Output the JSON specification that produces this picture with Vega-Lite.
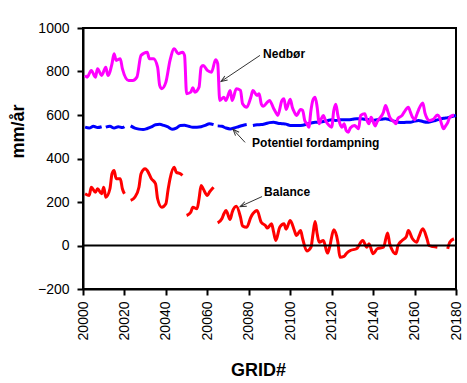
{
  "$schema": "https://vega.github.io/schema/vega-lite/v6.json",
  "width": 373,
  "height": 261,
  "autosize": "none",
  "padding": {"left": 83, "top": 28, "right": 11, "bottom": 94},
  "background": "white",
  "config": {
    "font": "Liberation Sans",
    "view": {"stroke": "black", "strokeWidth": 2},
    "axis": {"domainColor": "black", "domainWidth": 2, "tickColor": "black", "tickWidth": 2, "tickSize": 6, "labelColor": "black", "labelFontSize": 14, "labelFont": "Liberation Sans", "titleFont": "Liberation Sans", "titleColor": "black", "titleFontSize": 18, "titleFontWeight": "bold", "grid": false}
  },
  "datasets": {
    "ned": [
      {"g":20001,"v":782},{"g":20002,"v":774},{"g":20004,"v":805},{"g":20006,"v":774},{"g":20007,"v":813},{"g":20009,"v":782},{"g":20011,"v":820},{"g":20012,"v":782},{"g":20014,"v":836},{"g":20015,"v":882},{"g":20016,"v":851},{"g":20018,"v":859},{"g":20019,"v":813},{"g":20022,"v":759},{"g":20024,"v":759},{"g":20026,"v":774},{"g":20028,"v":874},{"g":20031,"v":889},{"g":20032,"v":859},{"g":20034,"v":859},{"g":20036,"v":820},{"g":20037,"v":736},{"g":20038,"v":721},{"g":20040,"v":751},{"g":20042,"v":851},{"g":20044,"v":905},{"g":20046,"v":882},{"g":20048,"v":889},{"g":20049,"v":874},{"g":20050,"v":698},{"g":20052,"v":705},{"g":20053,"v":725},{"g":20054,"v":705},{"g":20056,"v":728},{"g":20057,"v":820},{"g":20058,"v":828},{"g":20060,"v":805},{"g":20062,"v":797},{"g":20064,"v":854},{"g":20065,"v":836},{"g":20066,"v":667},{"g":20068,"v":682},{"g":20069,"v":667},{"g":20071,"v":713},{"g":20072,"v":667},{"g":20074,"v":721},{"g":20076,"v":713},{"g":20077,"v":652},{"g":20079,"v":636},{"g":20081,"v":682},{"g":20082,"v":713},{"g":20084,"v":690},
      {"g":20085,"v":698},{"g":20086,"v":652},{"g":20087,"v":640},{"g":20089,"v":659},{"g":20090,"v":667},{"g":20092,"v":630},{"g":20093,"v":613},{"g":20094,"v":598},{"g":20096,"v":667},{"g":20097,"v":675},{"g":20098,"v":625},{"g":20100,"v":672},{"g":20101,"v":636},{"g":20102,"v":613},{"g":20103,"v":598},{"g":20105,"v":625},{"g":20106,"v":621},{"g":20107,"v":575},{"g":20108,"v":560},{"g":20109,"v":544},{"g":20110,"v":621},{"g":20111,"v":670},{"g":20112,"v":682},{"g":20113,"v":636},{"g":20114,"v":560},{"g":20115,"v":583},{"g":20116,"v":598},{"g":20117,"v":575},{"g":20118,"v":560},{"g":20120,"v":544},{"g":20121,"v":620},{"g":20122,"v":650},{"g":20123,"v":598},{"g":20124,"v":560},{"g":20125,"v":544},{"g":20126,"v":560},{"g":20127,"v":529},{"g":20128,"v":521},{"g":20129,"v":540},{"g":20131,"v":552},{"g":20132,"v":545},{"g":20133,"v":537},{"g":20134,"v":598},{"g":20136,"v":606},{"g":20137,"v":575},{"g":20138,"v":560},{"g":20139,"v":590},{"g":20141,"v":550},{"g":20142,"v":570},{"g":20143,"v":583},{"g":20145,"v":613},{"g":20146,"v":644},{"g":20147,"v":620},{"g":20148,"v":590},{"g":20150,"v":570},{"g":20151,"v":560},{"g":20152,"v":585},{"g":20154,"v":598},{"g":20155,"v":613},{"g":20157,"v":636},{"g":20158,"v":613},{"g":20159,"v":590},{"g":20160,"v":578},{"g":20161,"v":600},{"g":20162,"v":625},{"g":20164,"v":655},{"g":20165,"v":610},{"g":20166,"v":585},{"g":20167,"v":575},{"g":20169,"v":580},{"g":20171,"v":600},{"g":20172,"v":590},{"g":20173,"v":560},{"g":20174,"v":537},{"g":20175,"v":550},{"g":20176,"v":565},{"g":20177,"v":590},{"g":20179,"v":600}
    ],
    "pot": [
      {"g":20001,"v":544},{"g":20003,"v":540},{"g":20005,"v":548},{"g":20007,"v":542},{"g":20009,"v":546},{"g":20010,"v":null},{"g":20011,"v":544},{"g":20013,"v":548},{"g":20015,"v":540},{"g":20017,"v":546},{"g":20019,"v":542},{"g":20020,"v":546},{"g":20021,"v":null},{"g":20023,"v":550},{"g":20025,"v":540},{"g":20027,"v":535},{"g":20029,"v":533},{"g":20031,"v":538},{"g":20033,"v":545},{"g":20035,"v":555},{"g":20037,"v":557},{"g":20039,"v":552},{"g":20041,"v":545},{"g":20043,"v":535},{"g":20045,"v":540},{"g":20047,"v":552},{"g":20049,"v":553},{"g":20051,"v":548},{"g":20053,"v":544},{"g":20055,"v":544},{"g":20057,"v":546},{"g":20059,"v":552},{"g":20061,"v":560},{"g":20063,"v":556},{"g":20064,"v":null},{"g":20065,"v":550},{"g":20067,"v":548},{"g":20069,"v":540},{"g":20071,"v":536},{"g":20073,"v":540},{"g":20075,"v":546},{"g":20077,"v":552},{"g":20079,"v":556},{"g":20081,"v":null},{"g":20082,"v":552},{"g":20084,"v":555},{"g":20086,"v":556},{"g":20088,"v":560},{"g":20090,"v":565},{"g":20092,"v":567},{"g":20094,"v":562},{"g":20096,"v":560},{"g":20098,"v":558},{"g":20100,"v":552},{"g":20102,"v":552},{"g":20104,"v":552},{"g":20106,"v":553},{"g":20108,"v":558},{"g":20110,"v":563},{"g":20112,"v":567},{"g":20114,"v":567},{"g":20116,"v":570},{"g":20118,"v":574},{"g":20120,"v":578},{"g":20122,"v":575},{"g":20124,"v":578},{"g":20126,"v":578},{"g":20128,"v":578},{"g":20130,"v":580},{"g":20132,"v":583},{"g":20134,"v":583},{"g":20136,"v":580},{"g":20138,"v":578},{"g":20140,"v":575},{"g":20142,"v":578},{"g":20144,"v":580},{"g":20146,"v":583},{"g":20148,"v":578},{"g":20150,"v":572},{"g":20152,"v":567},{"g":20154,"v":565},{"g":20156,"v":567},{"g":20158,"v":567},{"g":20160,"v":572},{"g":20162,"v":575},{"g":20164,"v":570},{"g":20166,"v":567},{"g":20168,"v":570},{"g":20170,"v":575},{"g":20172,"v":580},{"g":20174,"v":585},{"g":20176,"v":588},{"g":20178,"v":593},{"g":20180,"v":598}
    ],
    "bal": [
      {"g":20001,"v":238},{"g":20003,"v":230},{"g":20004,"v":268},{"g":20006,"v":245},{"g":20007,"v":261},{"g":20009,"v":238},{"g":20010,"v":268},{"g":20011,"v":222},{"g":20013,"v":261},{"g":20014,"v":330},{"g":20015,"v":345},{"g":20016,"v":307},{"g":20018,"v":307},{"g":20019,"v":261},{"g":20020,"v":238},{"g":20021,"v":null},{"g":20023,"v":207},{"g":20025,"v":222},{"g":20027,"v":268},{"g":20028,"v":330},{"g":20030,"v":353},{"g":20031,"v":345},{"g":20033,"v":307},{"g":20035,"v":284},{"g":20036,"v":215},{"g":20038,"v":176},{"g":20040,"v":192},{"g":20041,"v":253},{"g":20042,"v":307},{"g":20044,"v":360},{"g":20045,"v":337},{"g":20047,"v":330},{"g":20048,"v":322},{"g":20049,"v":null},{"g":20050,"v":138},{"g":20052,"v":153},{"g":20053,"v":176},{"g":20055,"v":169},{"g":20056,"v":215},{"g":20057,"v":276},{"g":20058,"v":261},{"g":20060,"v":230},{"g":20061,"v":245},{"g":20063,"v":268},{"g":20064,"v":null},{"g":20065,"v":104},{"g":20067,"v":123},{"g":20068,"v":146},{"g":20069,"v":161},{"g":20071,"v":120},{"g":20072,"v":153},{"g":20074,"v":180},{"g":20076,"v":130},{"g":20077,"v":90},{"g":20079,"v":84},{"g":20081,"v":130},{"g":20082,"v":146},{"g":20084,"v":161},{"g":20086,"v":107},{"g":20088,"v":92},{"g":20089,"v":80},{"g":20091,"v":100},{"g":20092,"v":61},{"g":20093,"v":23},{"g":20095,"v":85},{"g":20097,"v":100},{"g":20098,"v":75},{"g":20100,"v":115},{"g":20102,"v":69},{"g":20103,"v":46},{"g":20105,"v":69},{"g":20106,"v":31},{"g":20108,"v":-25},{"g":20110,"v":-8},{"g":20111,"v":54},{"g":20112,"v":110},{"g":20113,"v":54},{"g":20114,"v":15},{"g":20116,"v":23},{"g":20118,"v":-35},{"g":20119,"v":-8},{"g":20121,"v":72},{"g":20123,"v":15},{"g":20124,"v":-54},{"g":20126,"v":-50},{"g":20127,"v":-38},{"g":20129,"v":-23},{"g":20132,"v":-15},{"g":20135,"v":23},{"g":20137,"v":-8},{"g":20138,"v":8},{"g":20140,"v":-38},{"g":20142,"v":-15},{"g":20145,"v":-8},{"g":20147,"v":58},{"g":20148,"v":8},{"g":20151,"v":-38},{"g":20152,"v":0},{"g":20154,"v":23},{"g":20156,"v":40},{"g":20157,"v":69},{"g":20159,"v":31},{"g":20161,"v":15},{"g":20162,"v":38},{"g":20164,"v":77},{"g":20166,"v":31},{"g":20167,"v":0},{"g":20169,"v":-5},{"g":20171,"v":-8},{"g":20172,"v":null},{"g":20176,"v":-15},{"g":20177,"v":15},{"g":20179,"v":31}
    ],
    "arrows": [
      {"label":"Nedbør","g":20085.4,"v":874,"g2":20066.6,"v2":754},
      {"label":"Potentiel fordampning","g":20078.2,"v":474,"g2":20072.4,"v2":534},
      {"label":"Balance","g":20086.4,"v":225,"g2":20075.8,"v2":179}
    ],
    "labels": [
      {"label":"Nedbør","g":20086.9,"v":879},
      {"label":"Potentiel fordampning","g":20081.6,"v":469},
      {"label":"Balance","g":20087.4,"v":244}
    ]
  },
  "encoding": {
    "x": {"field": "g", "type": "quantitative", "scale": {"domain": [20000, 20180], "nice": false, "zero": false},
      "axis": {"title": "GRID#", "values": [20000,20020,20040,20060,20080,20100,20120,20140,20160,20180], "format": "d", "labelAngle": -90, "labelPadding": 6, "titleX": 175, "titleY": 86, "titleBaseline": "alphabetic", "titleAnchor": null}},
    "y": {"field": "v", "type": "quantitative", "scale": {"domain": [-200, 1000], "nice": false},
      "axis": {"title": "mm/år", "values": [-200,0,200,400,600,800,1000], "format": "d", "labelPadding": 8, "titleX": -60, "titleY": 103, "titleAngle": -90, "titleAlign": "center", "titleBaseline": "alphabetic"}}
  },
  "layer": [
    {"data": {"name": "pot"}, "mark": {"type": "line", "color": "#0000FF", "strokeWidth": 3, "interpolate": "monotone", "invalid": "break-paths-filter-domains"}},
    {"data": {"name": "ned"}, "mark": {"type": "line", "color": "#FF00FF", "strokeWidth": 3, "interpolate": "monotone", "invalid": "break-paths-filter-domains"}},
    {"data": {"name": "bal"}, "mark": {"type": "line", "color": "#FF0000", "strokeWidth": 3, "interpolate": "monotone", "invalid": "break-paths-filter-domains"}},
    {"data": {"values": [{"z": 0}]}, "mark": {"type": "rule", "color": "black", "strokeWidth": 2},
      "encoding": {"x": null, "y": {"field": "z", "type": "quantitative"}}},
    {"data": {"name": "arrows"}, "mark": {"type": "rule", "color": "#333333", "strokeWidth": 1},
      "encoding": {"x2": {"field": "g2"}, "y2": {"field": "v2"}}},
    {"data": {"name": "arrows"}, "transform": [{"filter": "datum.label === 'Nedbør'"}],
      "mark": {"type": "point", "shape": "M-0.7,1.8L0,0L0.7,1.8", "size": 49, "filled": false, "color": "#333333", "strokeWidth": 1, "opacity": 1, "angle": 236},
      "encoding": {"x": {"field": "g2", "type": "quantitative"}, "y": {"field": "v2", "type": "quantitative"}}},
    {"data": {"name": "arrows"}, "transform": [{"filter": "datum.label === 'Potentiel fordampning'"}],
      "mark": {"type": "point", "shape": "M-0.7,1.8L0,0L0.7,1.8", "size": 49, "filled": false, "color": "#333333", "strokeWidth": 1, "opacity": 1, "angle": 317},
      "encoding": {"x": {"field": "g2", "type": "quantitative"}, "y": {"field": "v2", "type": "quantitative"}}},
    {"data": {"name": "arrows"}, "transform": [{"filter": "datum.label === 'Balance'"}],
      "mark": {"type": "point", "shape": "M-0.7,1.8L0,0L0.7,1.8", "size": 49, "filled": false, "color": "#333333", "strokeWidth": 1, "opacity": 1, "angle": 246},
      "encoding": {"x": {"field": "g2", "type": "quantitative"}, "y": {"field": "v2", "type": "quantitative"}}},
    {"data": {"name": "labels"}, "mark": {"type": "text", "align": "left", "baseline": "middle", "fontSize": 12, "fontWeight": "bold", "color": "black", "font": "Liberation Sans"},
      "encoding": {"text": {"field": "label"}}}
  ]
}
